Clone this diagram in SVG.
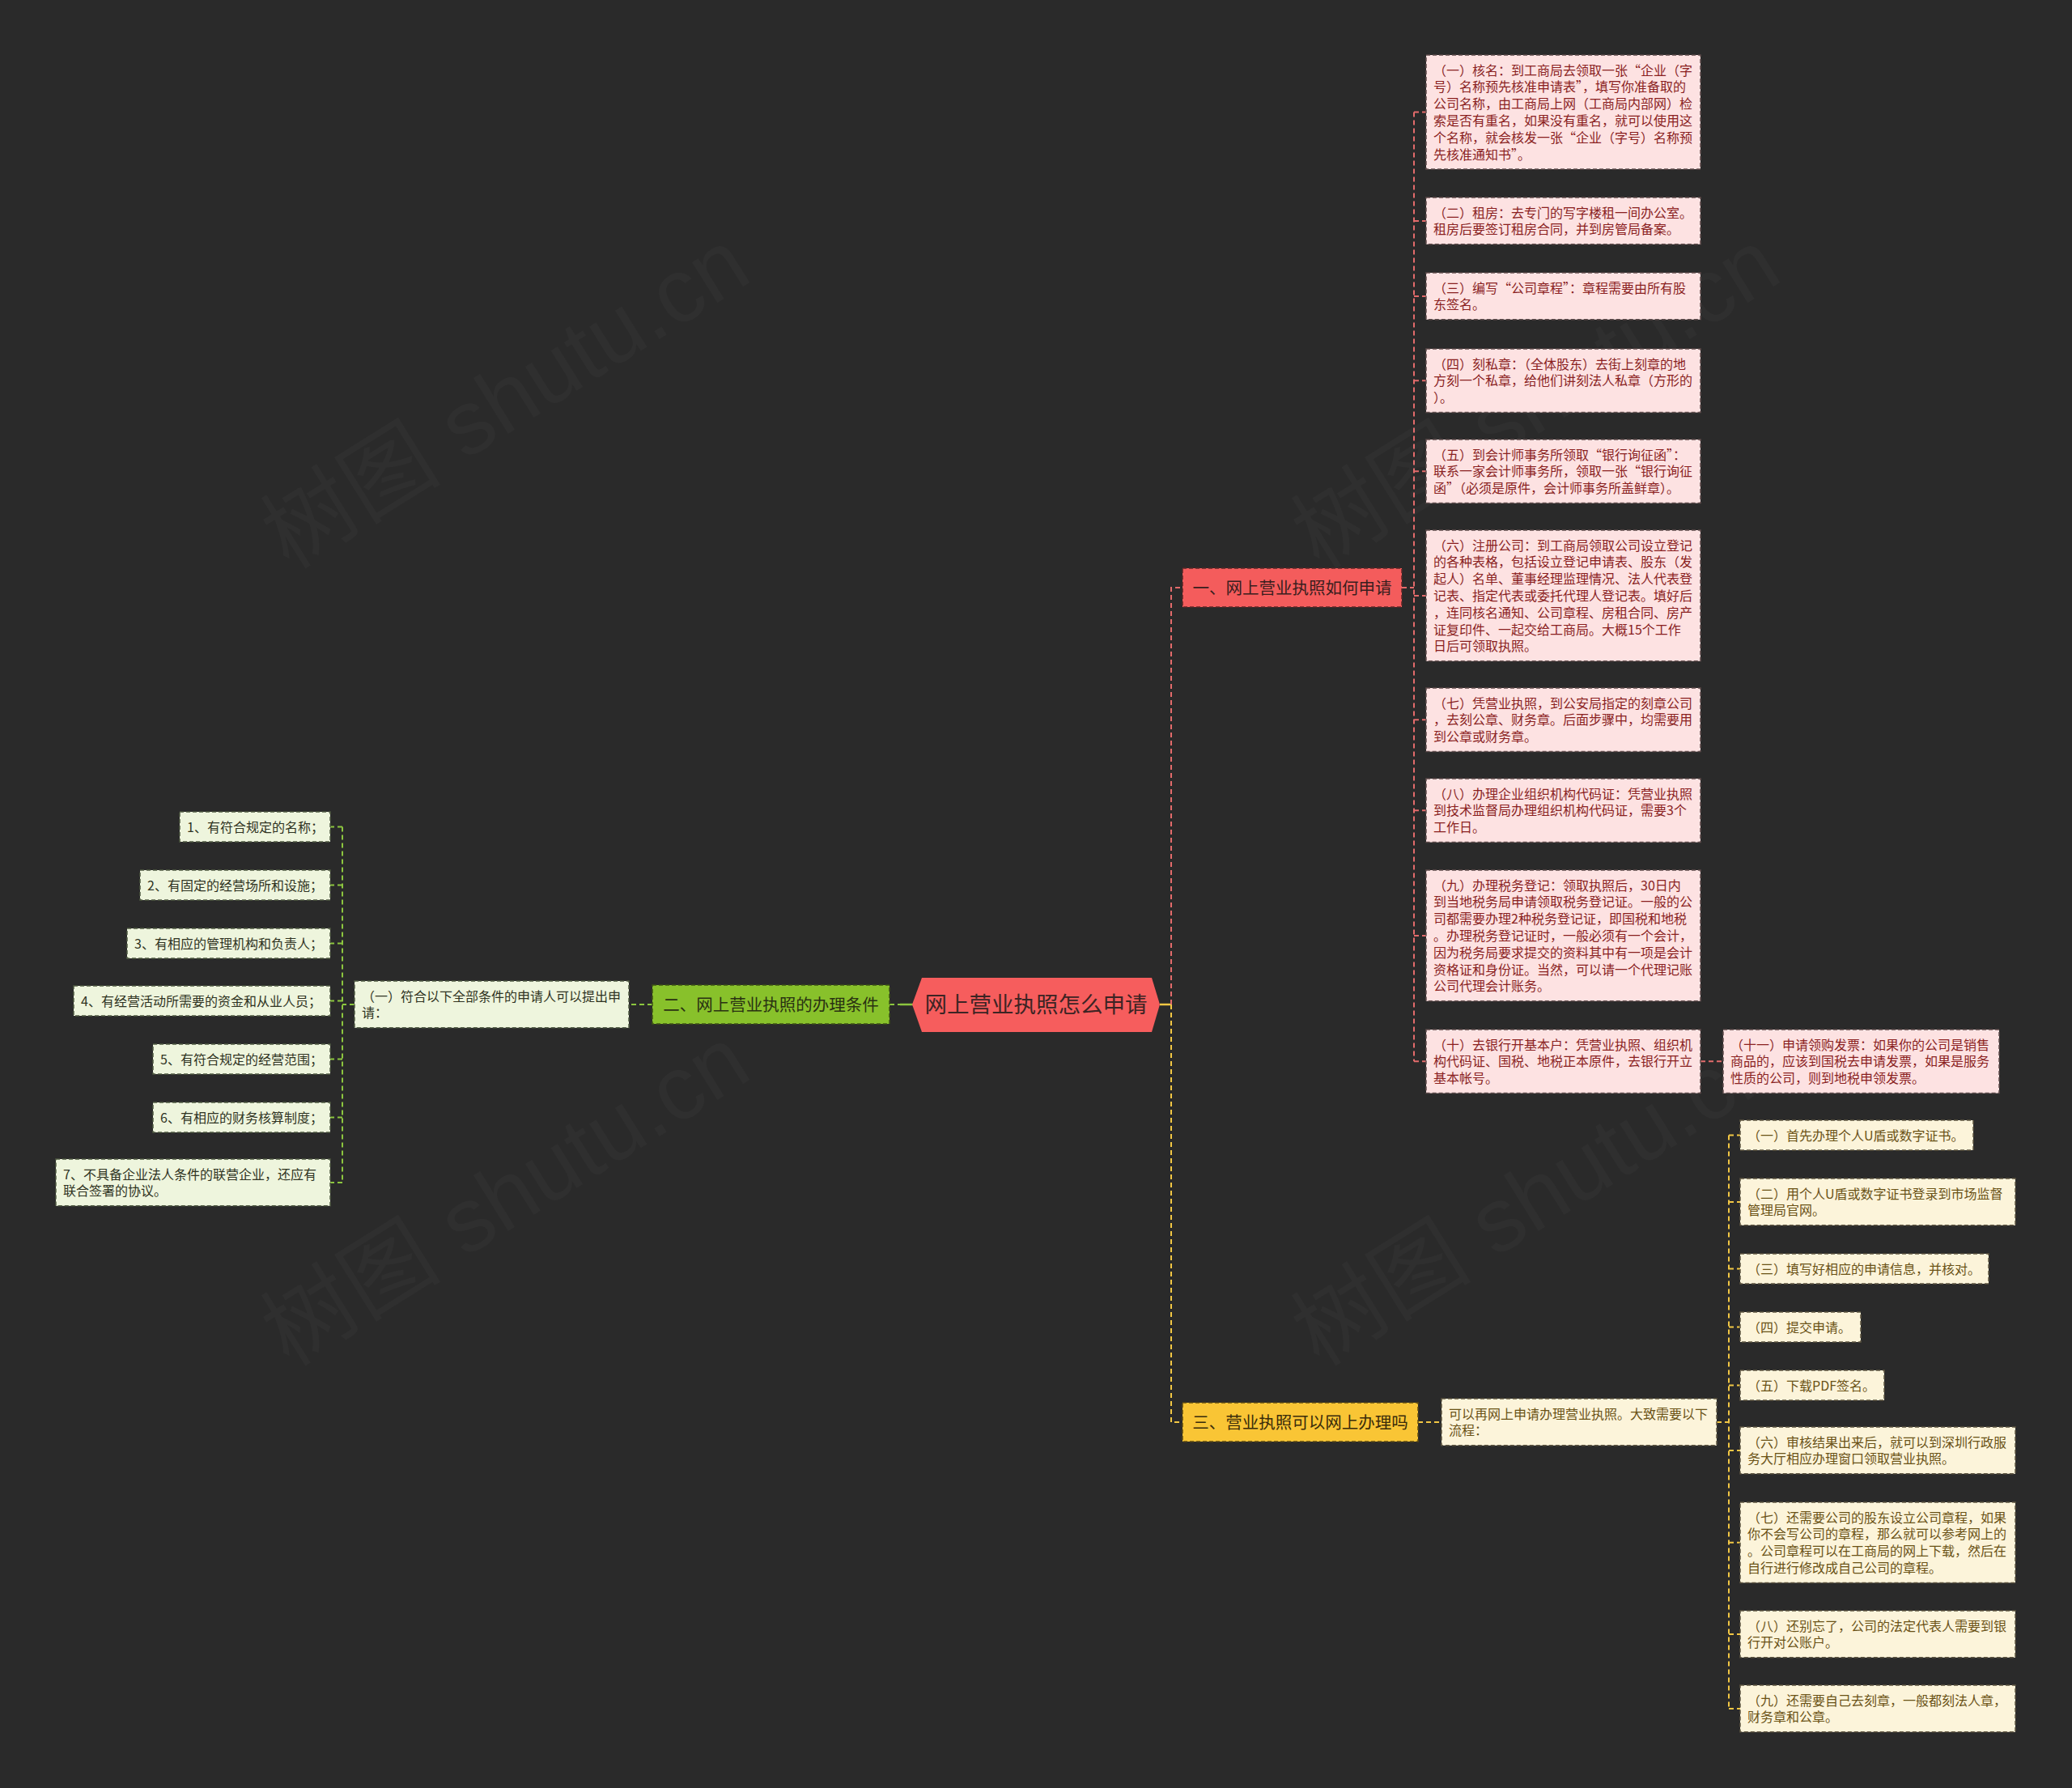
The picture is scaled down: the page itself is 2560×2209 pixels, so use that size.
<svg xmlns="http://www.w3.org/2000/svg" width="2560" height="2209" viewBox="0 0 2560 2209">
<style>
text{font-family:"Noto Sans CJK SC","Noto Sans",sans-serif;}
.lf{font-size:16px;}
.br{font-size:20.5px;}
.box{stroke-width:1.5;stroke-dasharray:5 3;}
.pk{fill:#fde2e2;stroke:#5e4b4b;}
.pkt{fill:#8a1f1f;}
.gn{fill:#eef5dd;stroke:#4f5a42;}
.gnt{fill:#2f3322;}
.yl{fill:#fcf4da;stroke:#5c5440;}
.ylt{fill:#6a5216;}
.c{fill:none;stroke-width:2;stroke-dasharray:6 4;}
.cr{stroke:#e36b6b;}
.cg{stroke:#8cc63f;}
.cy{stroke:#f2c744;}
.wm{font-family:"Liberation Sans","Noto Sans CJK SC",sans-serif;font-size:112px;fill:#ffffff;fill-opacity:0.025;}
</style>
<rect width="2560" height="2209" fill="#2a2a2a"/>

<g id="connectors">
  <path d="M1433,1241 H1447" stroke="#f2c744" stroke-width="2.5" fill="none"/>
  <path class="c cr" d="M1447,1241 V726 H1461"/>
  <path class="c cy" d="M1447,1241 V1757 H1461"/>
  <path d="M1112,1241 H1128" stroke="#8cc63f" stroke-width="2.5" fill="none"/>
  <path class="c cg" d="M1099,1241 H1112"/>
  <path class="c cg" d="M806,1241 H777"/>
  <path class="c cg" d="M438,1241 H423 M423,1021.5 V1460.9 M423,1021.5 H408 M423,1093.5 H408 M423,1165.5 H408 M423,1236.5 H408 M423,1308.5 H408 M423,1380.5 H408 M423,1460.9 H408"/>
  <path class="c cr" d="M1732,726 H1747 M1747,138.5 V1311.3 M1747,138.5 H1762 M1747,272.9 H1762 M1747,365.9 H1762 M1747,470.3 H1762 M1747,582.3 H1762 M1747,735.9 H1762 M1747,889.3 H1762 M1747,1001.3 H1762 M1747,1155.9 H1762 M1747,1311.3 H1762 M2101,1311.3 H2129"/>
  <path class="c cy" d="M1752,1757 H1781 M2121,1757 H2136 M2136,1402.5 V2110.9 M2136,1402.5 H2150 M2136,1484.9 H2150 M2136,1567.5 H2150 M2136,1639.5 H2150 M2136,1711.5 H2150 M2136,1791.9 H2150 M2136,1905.7 H2150 M2136,2018.9 H2150 M2136,2110.9 H2150"/>
</g>

<g id="root">
  <polygon points="1127,1241 1139,1208 1423,1208 1433,1241 1423,1275 1139,1275" fill="#f65d5d"/>
  <text x="1280" y="1251" text-anchor="middle" font-size="27.5" fill="#3d2424">网上营业执照怎么申请</text>
</g>

<g id="branch1">
  <rect x="1461" y="702" width="271" height="48" fill="#f45c5c" stroke="#5a2626" class="box"/>
  <text class="br" x="1596.5" y="733.5" text-anchor="middle" fill="#3a1e1e">一、网上营业执照如何申请</text>
</g>
<g id="branch2">
  <rect x="806" y="1217" width="293" height="48" fill="#88c12b" stroke="#3d5214" class="box"/>
  <text class="br" x="952.5" y="1248.5" text-anchor="middle" fill="#2a3212">二、网上营业执照的办理条件</text>
</g>
<g id="branch3">
  <rect x="1461" y="1733" width="291" height="48" fill="#f9c535" stroke="#5c4a12" class="box"/>
  <text class="br" x="1606.5" y="1764.5" text-anchor="middle" fill="#3a2c0a">三、营业执照可以网上办理吗</text>
</g>

<g id="b1-1"><rect class="box pk" x="1762" y="68" width="339" height="141"/>
<text class="lf pkt" x="1771" y="92.5">（一）核名：到工商局去领取一张“企业（字<tspan x="1771" dy="20.8">号）名称预先核准申请表”，填写你准备取的</tspan><tspan x="1771" dy="20.8">公司名称，由工商局上网（工商局内部网）检</tspan><tspan x="1771" dy="20.8">索是否有重名，如果没有重名，就可以使用这</tspan><tspan x="1771" dy="20.8">个名称，就会核发一张“企业（字号）名称预</tspan><tspan x="1771" dy="20.8">先核准通知书”。</tspan></text></g>
<g id="b1-2"><rect class="box pk" x="1762" y="244" width="339" height="57.8"/>
<text class="lf pkt" x="1771" y="268.5">（二）租房：去专门的写字楼租一间办公室。<tspan x="1771" dy="20.8">租房后要签订租房合同，并到房管局备案。</tspan></text></g>
<g id="b1-3"><rect class="box pk" x="1762" y="337" width="339" height="57.8"/>
<text class="lf pkt" x="1771" y="361.5">（三）编写“公司章程”：章程需要由所有股<tspan x="1771" dy="20.8">东签名。</tspan></text></g>
<g id="b1-4"><rect class="box pk" x="1762" y="431" width="339" height="78.6"/>
<text class="lf pkt" x="1771" y="455.5">（四）刻私章：（全体股东）去街上刻章的地<tspan x="1771" dy="20.8">方刻一个私章，给他们讲刻法人私章（方形的</tspan><tspan x="1771" dy="20.8">）。</tspan></text></g>
<g id="b1-5"><rect class="box pk" x="1762" y="543" width="339" height="78.6"/>
<text class="lf pkt" x="1771" y="567.5">（五）到会计师事务所领取“银行询征函”：<tspan x="1771" dy="20.8">联系一家会计师事务所，领取一张“银行询征</tspan><tspan x="1771" dy="20.8">函”（必须是原件，会计师事务所盖鲜章）。</tspan></text></g>
<g id="b1-6"><rect class="box pk" x="1762" y="655" width="339" height="161.8"/>
<text class="lf pkt" x="1771" y="679.5">（六）注册公司：到工商局领取公司设立登记<tspan x="1771" dy="20.8">的各种表格，包括设立登记申请表、股东（发</tspan><tspan x="1771" dy="20.8">起人）名单、董事经理监理情况、法人代表登</tspan><tspan x="1771" dy="20.8">记表、指定代表或委托代理人登记表。填好后</tspan><tspan x="1771" dy="20.8">，连同核名通知、公司章程、房租合同、房产</tspan><tspan x="1771" dy="20.8">证复印件、一起交给工商局。大概15个工作</tspan><tspan x="1771" dy="20.8">日后可领取执照。</tspan></text></g>
<g id="b1-7"><rect class="box pk" x="1762" y="850" width="339" height="78.6"/>
<text class="lf pkt" x="1771" y="874.5">（七）凭营业执照，到公安局指定的刻章公司<tspan x="1771" dy="20.8">，去刻公章、财务章。后面步骤中，均需要用</tspan><tspan x="1771" dy="20.8">到公章或财务章。</tspan></text></g>
<g id="b1-8"><rect class="box pk" x="1762" y="962" width="339" height="78.6"/>
<text class="lf pkt" x="1771" y="986.5">（八）办理企业组织机构代码证：凭营业执照<tspan x="1771" dy="20.8">到技术监督局办理组织机构代码证，需要3个</tspan><tspan x="1771" dy="20.8">工作日。</tspan></text></g>
<g id="b1-9"><rect class="box pk" x="1762" y="1075" width="339" height="161.8"/>
<text class="lf pkt" x="1771" y="1099.5">（九）办理税务登记：领取执照后，30日内<tspan x="1771" dy="20.8">到当地税务局申请领取税务登记证。一般的公</tspan><tspan x="1771" dy="20.8">司都需要办理2种税务登记证，即国税和地税</tspan><tspan x="1771" dy="20.8">。办理税务登记证时，一般必须有一个会计，</tspan><tspan x="1771" dy="20.8">因为税务局要求提交的资料其中有一项是会计</tspan><tspan x="1771" dy="20.8">资格证和身份证。当然，可以请一个代理记账</tspan><tspan x="1771" dy="20.8">公司代理会计账务。</tspan></text></g>
<g id="b1-10"><rect class="box pk" x="1762" y="1272" width="339" height="78.6"/>
<text class="lf pkt" x="1771" y="1296.5">（十）去银行开基本户：凭营业执照、组织机<tspan x="1771" dy="20.8">构代码证、国税、地税正本原件，去银行开立</tspan><tspan x="1771" dy="20.8">基本帐号。</tspan></text></g>
<g id="b1-11"><rect class="box pk" x="2129" y="1272" width="341" height="78.6"/>
<text class="lf pkt" x="2138" y="1296.5">（十一）申请领购发票：如果你的公司是销售<tspan x="2138" dy="20.8">商品的，应该到国税去申请发票，如果是服务</tspan><tspan x="2138" dy="20.8">性质的公司，则到地税申领发票。</tspan></text></g>

<g id="b2-1"><rect class="box gn" x="438" y="1212" width="339" height="57.8"/>
<text class="lf gnt" x="447" y="1236.5">（一）符合以下全部条件的申请人可以提出申<tspan x="447" dy="20.8">请：</tspan></text></g>
<g id="b2-l1"><rect class="box gn" x="222" y="1003" width="186" height="37"/><text class="lf gnt" x="231" y="1027.5">1、有符合规定的名称；</text></g>
<g id="b2-l2"><rect class="box gn" x="173" y="1075" width="235" height="37"/><text class="lf gnt" x="182" y="1099.5">2、有固定的经营场所和设施；</text></g>
<g id="b2-l3"><rect class="box gn" x="157" y="1147" width="251" height="37"/><text class="lf gnt" x="166" y="1171.5">3、有相应的管理机构和负责人；</text></g>
<g id="b2-l4"><rect class="box gn" x="91" y="1218" width="317" height="37"/><text class="lf gnt" x="100" y="1242.5">4、有经营活动所需要的资金和从业人员；</text></g>
<g id="b2-l5"><rect class="box gn" x="189" y="1290" width="219" height="37"/><text class="lf gnt" x="198" y="1314.5">5、有符合规定的经营范围；</text></g>
<g id="b2-l6"><rect class="box gn" x="189" y="1362" width="219" height="37"/><text class="lf gnt" x="198" y="1386.5">6、有相应的财务核算制度；</text></g>
<g id="b2-l7"><rect class="box gn" x="69" y="1432" width="339" height="57.8"/><text class="lf gnt" x="78" y="1456.5">7、不具备企业法人条件的联营企业，还应有<tspan x="78" dy="20.8">联合签署的协议。</tspan></text></g>

<g id="b3-intro"><rect class="box yl" x="1781" y="1728" width="340" height="57.8"/>
<text class="lf ylt" x="1790" y="1752.5">可以再网上申请办理营业执照。大致需要以下<tspan x="1790" dy="20.8">流程：</tspan></text></g>
<g id="b3-1"><rect class="box yl" x="2150" y="1384" width="288" height="37"/><text class="lf ylt" x="2159" y="1408.5">（一）首先办理个人U盾或数字证书。</text></g>
<g id="b3-2"><rect class="box yl" x="2150" y="1456" width="340" height="57.8"/><text class="lf ylt" x="2159" y="1480.5">（二）用个人U盾或数字证书登录到市场监督<tspan x="2159" dy="20.8">管理局官网。</tspan></text></g>
<g id="b3-3"><rect class="box yl" x="2150" y="1549" width="307" height="37"/><text class="lf ylt" x="2159" y="1573.5">（三）填写好相应的申请信息，并核对。</text></g>
<g id="b3-4"><rect class="box yl" x="2150" y="1621" width="149" height="37"/><text class="lf ylt" x="2159" y="1645.5">（四）提交申请。</text></g>
<g id="b3-5"><rect class="box yl" x="2150" y="1693" width="178" height="37"/><text class="lf ylt" x="2159" y="1717.5">（五）下载PDF签名。</text></g>
<g id="b3-6"><rect class="box yl" x="2150" y="1763" width="340" height="57.8"/><text class="lf ylt" x="2159" y="1787.5">（六）审核结果出来后，就可以到深圳行政服<tspan x="2159" dy="20.8">务大厅相应办理窗口领取营业执照。</tspan></text></g>
<g id="b3-7"><rect class="box yl" x="2150" y="1856" width="340" height="99.4"/><text class="lf ylt" x="2159" y="1880.5">（七）还需要公司的股东设立公司章程，如果<tspan x="2159" dy="20.8">你不会写公司的章程，那么就可以参考网上的</tspan><tspan x="2159" dy="20.8">。公司章程可以在工商局的网上下载，然后在</tspan><tspan x="2159" dy="20.8">自行进行修改成自己公司的章程。</tspan></text></g>
<g id="b3-8"><rect class="box yl" x="2150" y="1990" width="340" height="57.8"/><text class="lf ylt" x="2159" y="2014.5">（八）还别忘了，公司的法定代表人需要到银<tspan x="2159" dy="20.8">行开对公账户。</tspan></text></g>
<g id="b3-9"><rect class="box yl" x="2150" y="2082" width="340" height="57.8"/><text class="lf ylt" x="2159" y="2106.5">（九）还需要自己去刻章，一般都刻法人章，<tspan x="2159" dy="20.8">财务章和公章。</tspan></text></g>

<g id="watermarks">
  <text class="wm" x="645" y="525" text-anchor="middle" transform="rotate(-32 645 525)">树图 shutu.cn</text>
  <text class="wm" x="1918" y="525" text-anchor="middle" transform="rotate(-32 1918 525)">树图 shutu.cn</text>
  <text class="wm" x="645" y="1510" text-anchor="middle" transform="rotate(-32 645 1510)">树图 shutu.cn</text>
  <text class="wm" x="1918" y="1510" text-anchor="middle" transform="rotate(-32 1918 1510)">树图 shutu.cn</text>
</g>
</svg>
